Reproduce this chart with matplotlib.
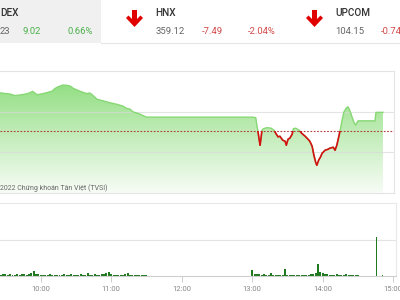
import numpy as np
import matplotlib
matplotlib.use("Agg")
import matplotlib.pyplot as plt
from matplotlib.patches import Rectangle, Polygon

plt.rcParams['font.family'] = ['Roboto', 'DejaVu Sans']

# VN-Index intraday (minutes after 9:00, index points)
ref_price = 1367.21
price_min = [15, 20, 25, 30, 34, 38, 42, 47, 51, 53, 57, 60, 64, 70, 72, 75, 79, 82, 85, 88,
             91, 93, 96, 99, 102, 105, 108, 113, 119, 125, 130, 133, 136, 138.5, 144.5, 149, 150,
             240, 243, 244, 245, 246, 246.7, 247.5, 248.3, 249.6, 252.6, 256, 258.5, 260, 262,
             263.5, 266, 268, 269, 270.5, 272, 274, 275, 277, 280, 282, 285, 287.5, 289, 291,
             292.5, 294, 295, 296.5, 298, 299.5, 302, 304.5, 306, 309, 310.5, 312, 313, 314.7,
             316.5, 318, 320, 321.5, 323, 325, 326.5, 328, 330, 344.5, 345.3, 351.3]
price_val = [1384.01, 1385.45, 1385.59, 1385.21, 1384.97, 1384.25, 1384.49, 1384.97, 1385.59,
             1386.27, 1384.63, 1384.97, 1385.45, 1386.41, 1387.61, 1388.47, 1389.29, 1389.15,
             1388.81, 1387.61, 1386.89, 1386.41, 1385.79, 1385.21, 1385.45, 1384.01, 1382.43,
             1381.75, 1380.79, 1380.03, 1379.21, 1378.11, 1377.77, 1376.47, 1375.37, 1374.17,
             1373.93, 1373.93, 1373.69, 1370.09, 1366.73, 1362.89, 1360.49, 1363.85, 1367.69,
             1368.41, 1368.89, 1368.65, 1367.69, 1366.25, 1364.47, 1364.81, 1362.89, 1362.41,
             1360.49, 1363.37, 1363.85, 1365.77, 1368.41, 1368.65, 1367.69, 1366.25, 1364.81,
             1363.37, 1362.41, 1360.01, 1355.69, 1352.33, 1350.89, 1353.29, 1354.73, 1356.65,
             1358.09, 1358.57, 1359.05, 1359.53, 1358.09, 1360.49, 1362.89, 1367.21, 1372.49,
             1376.33, 1378.25, 1378.87, 1377.29, 1373.93, 1371.53, 1370.09, 1372.15, 1372.15,
             1376.19, 1376.23]
price_grid = [1357.13, 1376.33]

# volume, 2-minute buckets
vol_am_start = 16
vol_am = [6, 5, 4, 5, 3, 4, 5, 6, 4, 5, 4, 3, 5, 4, 6, 5, 4, 5, 7, 14,
          6, 5, 3, 4, 3, 4, 5, 3, 4, 3, 4, 3, 5, 4, 3, 6, 4, 3, 4, 5,
          3, 4, 8, 4, 3, 5, 4, 4, 6, 5, 7, 11, 5, 4, 3, 4, 3, 4, 5, 8,
          4, 3, 4, 3, 4, 3, 3, 2]
vol_pm_start = 240
vol_pm = [17, 6, 5, 5, 4, 5, 4, 3, 8, 4, 3, 4, 3, 3, 19, 4, 3, 3, 4, 3,
          4, 3, 4, 3, 4, 5, 6, 8, 33, 12, 9, 6, 5, 4, 3, 4, 5, 4, 3, 4,
          5, 4, 3, 4, 3, 3]
vol_atc_min = [346, 351]
vol_atc = [108, 3]

tick_min = [60, 120, 180, 240, 300, 360]
tick_lbl = ["10:00", "11:00", "12:00", "13:00", "14:00", "15:00"]

fig = plt.figure(figsize=(4, 3), dpi=100)
fig.patch.set_facecolor("white")

# ---- price panel
ax = fig.add_axes([0, 0.3567, 0.985, 0.4077])
x0, x1 = 25.36, 360.67
y0, y1 = 1337.65, 1396.15
grad = np.linspace(0, 1, 256).reshape(-1, 1)
top_c = np.array([0.53, 0.86, 0.46])
bot_c = np.array([0.97, 0.99, 0.965])
img = bot_c + (top_c - bot_c) * grad[..., None]
img = img.reshape(256, 1, 3)
im = ax.imshow(img, extent=[x0, x1, y0, y1], origin="lower", aspect="auto", zorder=1)
poly = ax.fill_between(price_min, price_val, y0, facecolor="none", edgecolor="none")
im.set_clip_path(poly.get_paths()[0], transform=ax.transData)

for g in price_grid:
    ax.axhline(g, color="#d9d9d9", lw=0.8, alpha=0.7, zorder=2)
ax.axhline(ref_price, color="#b03a3a", lw=0.8, ls=(0, (1.5, 1.5)), zorder=4)

ax.plot(price_min, price_val, color="#86d874", lw=1, zorder=3)
red, = ax.plot(price_min, price_val, color="#d41010", lw=1.2, zorder=5)
red.set_clip_path(Rectangle((x0, y0), x1 - x0, ref_price - y0, transform=ax.transData))

ax.set_xlim(x0, x1)
ax.set_ylim(y0, y1)
ax.set_xticks([])
ax.set_yticks([])
for s in ["top", "right", "bottom"]:
    ax.spines[s].set_color("#e4e4e4")
    ax.spines[s].set_linewidth(0.8)
ax.spines["left"].set_visible(False)

# ---- volume panel
axv = fig.add_axes([0, 0.08, 0.99, 0.2433])
am_x = vol_am_start + 2 * np.arange(len(vol_am))
pm_x = vol_pm_start + 2 * np.arange(len(vol_pm))
axv.bar(am_x, vol_am, width=1.7, color="#1f7a1f", lw=0)
axv.bar(pm_x, vol_pm, width=1.7, color="#1f7a1f", lw=0)
axv.bar(vol_atc_min, vol_atc, width=0.9, color="#1f7a1f", lw=0)
axv.axhline(100, color="#e4e4e4", lw=0.8, zorder=0)
axv.set_xlim(25.36, 362.4)
axv.set_ylim(0, 203)
axv.set_yticks([])
axv.set_xticks(tick_min)
axv.set_xticklabels(tick_lbl, fontsize=5.5, color="#888888")
axv.tick_params(axis="x", length=4, width=0.6, color="#c8c8c8", pad=3)
for s in ["top", "right"]:
    axv.spines[s].set_color("#e8e8e8")
    axv.spines[s].set_linewidth(0.8)
axv.spines["bottom"].set_color("#cfcfcf")
axv.spines["bottom"].set_linewidth(0.8)
axv.spines["left"].set_visible(False)

# ---- header overlay (pixel coords)
hd = fig.add_axes([0, 0, 1, 1], zorder=10)
hd.set_xlim(0, 400)
hd.set_ylim(300, 0)
hd.axis("off")
hd.patch.set_alpha(0)
hd.add_patch(Rectangle((0, 0), 100.7, 43, color="#f0f0f0", lw=0))
hd.plot([100.7, 400], [43.3, 43.3], color="#e6e6e6", lw=0.8)


def arrow(cx):
    pts = [(cx - 2.5, 10), (cx + 2.5, 10), (cx + 2.5, 19), (cx + 6, 15.5), (cx + 8.5, 18),
           (cx, 27), (cx - 8.5, 18), (cx - 6, 15.5), (cx - 2.5, 19)]
    hd.add_patch(Polygon(pts, closed=True, color="#e00000", lw=0))


arrow(134.5)
arrow(314.5)

green = "#4cb04c"
redc = "#d24848"
gray = "#666666"
hd.text(0, 13, "DEX", fontsize=7.2, weight="medium", color="#333333", va="center")
hd.text(0, 32, "23", fontsize=6.8, color=gray, va="center")
hd.text(22.7, 32, "9.02", fontsize=6.8, color=green, va="center")
hd.text(68, 32, "0.66%", fontsize=6.8, color=green, va="center")
hd.text(155.7, 13, "HNX", fontsize=7.2, weight="medium", color="#333333", va="center")
hd.text(155.7, 32, "359.12", fontsize=6.8, color=gray, va="center")
hd.text(201.7, 32, "-7.49", fontsize=6.8, color=redc, va="center")
hd.text(248.3, 32, "-2.04%", fontsize=6.8, color=redc, va="center")
hd.text(335, 13, "UPCOM", fontsize=7.2, weight="medium", color="#333333", va="center")
hd.text(335, 32, "104.15", fontsize=6.8, color=gray, va="center")
hd.text(381, 32, "-0.74", fontsize=6.8, color=redc, va="center")
hd.text(0, 187.7, "2022 Chứng khoán Tân Việt (TVSI)", fontsize=5, color="#666666", va="center")

fig.savefig("out.png", dpi=100)
